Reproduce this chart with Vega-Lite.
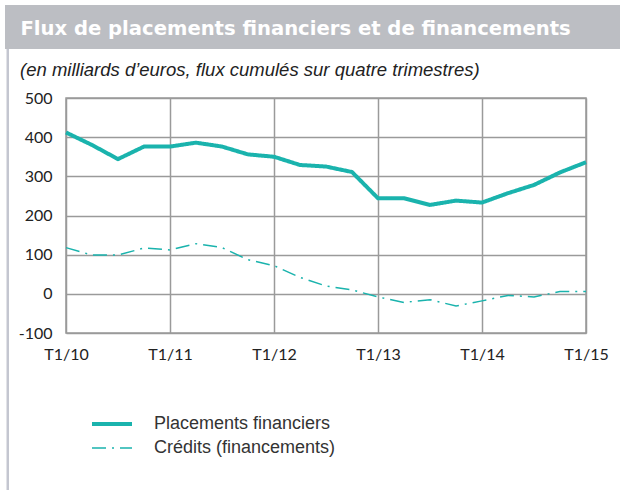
{
  "$schema": "https://vega.github.io/schema/vega-lite/v6.json",
  "padding": {"left": 5, "top": 5, "right": 0, "bottom": 0},
  "background": "white",
  "width": 520,
  "height": 235,
  "config": {"font": "Lato", "axis": {"labelOverlap": false}},
  "view": {"stroke": "#9a9a9a", "strokeWidth": 1.5},
  "encoding": {
    "x": {
      "type": "quantitative", "title": null,
      "scale": {"domain": [2010, 2015], "nice": false, "zero": false},
      "axis": {
        "values": [2010, 2011, 2012, 2013, 2014, 2015],
        "labelExpr": "'T1/' + slice(toString(datum.value), 2)",
        "grid": true, "gridColor": "#9a9a9a", "gridWidth": 1.5,
        "domain": false, "ticks": false, "labelOverlap": false,
        "labelPadding": 13, "labelFontSize": 16, "labelFont": "Lato", "labelColor": "#222222",
        "labelFlush": false
      }
    },
    "y": {
      "type": "quantitative", "title": null,
      "scale": {"domain": [-100, 500], "nice": false, "zero": false},
      "axis": {
        "values": [-100, 0, 100, 200, 300, 400, 500],
        "labelExpr": "toString(datum.value)",
        "grid": true, "gridColor": "#9a9a9a", "gridWidth": 1.5,
        "domain": false, "ticks": false, "labelOverlap": false,
        "labelPadding": 14, "labelFontSize": 16, "labelFont": "Lato", "labelColor": "#222222"
      }
    }
  },
  "layer": [
    {
      "data": {"values": [{}]},
      "mark": {"type": "rect", "color": "#bcbec3", "clip": false},
      "encoding": {
        "x": {"datum": 2009.4135, "type": "quantitative"},
        "x2": {"datum": 2015.33},
        "y": {"datum": 737.4, "type": "quantitative"},
        "y2": {"datum": 625.1}
      }
    },
    {
      "data": {"values": [{}]},
      "mark": {"type": "rule", "color": "#c4c6d0", "strokeWidth": 2.5, "clip": false},
      "encoding": {
        "x": {"datum": 2009.44, "type": "quantitative"},
        "y": {"datum": 625.1, "type": "quantitative"},
        "y2": {"datum": -501}
      }
    },
    {
      "data": {"values": [{"texte": "Flux de placements financiers et de financements"}]},
      "mark": {"type": "text", "align": "left", "baseline": "alphabetic", "font": "DejaVu Sans", "fontWeight": "bold", "fontSize": 19.6, "color": "white", "clip": false},
      "encoding": {
        "text": {"field": "texte"},
        "x": {"datum": 2009.562, "type": "quantitative"},
        "y": {"datum": 661, "type": "quantitative"}
      }
    },
    {
      "data": {"values": [{"texte": "(en milliards d’euros, flux cumulés sur quatre trimestres)"}]},
      "mark": {"type": "text", "align": "left", "baseline": "alphabetic", "font": "Liberation Sans", "fontStyle": "italic", "fontSize": 18.5, "color": "#222222", "clip": false},
      "encoding": {
        "text": {"field": "texte"},
        "x": {"datum": 2009.558, "type": "quantitative"},
        "y": {"datum": 556, "type": "quantitative"}
      }
    },
    {
      "data": {"values": [
        {"date": 2010.00, "serie": "Placements financiers", "valeur": 412},
        {"date": 2010.25, "serie": "Placements financiers", "valeur": 380},
        {"date": 2010.50, "serie": "Placements financiers", "valeur": 344},
        {"date": 2010.75, "serie": "Placements financiers", "valeur": 376},
        {"date": 2011.00, "serie": "Placements financiers", "valeur": 376},
        {"date": 2011.25, "serie": "Placements financiers", "valeur": 386},
        {"date": 2011.50, "serie": "Placements financiers", "valeur": 376},
        {"date": 2011.75, "serie": "Placements financiers", "valeur": 356},
        {"date": 2012.00, "serie": "Placements financiers", "valeur": 350},
        {"date": 2012.25, "serie": "Placements financiers", "valeur": 329},
        {"date": 2012.50, "serie": "Placements financiers", "valeur": 325},
        {"date": 2012.75, "serie": "Placements financiers", "valeur": 311},
        {"date": 2013.00, "serie": "Placements financiers", "valeur": 244},
        {"date": 2013.25, "serie": "Placements financiers", "valeur": 244},
        {"date": 2013.50, "serie": "Placements financiers", "valeur": 227},
        {"date": 2013.75, "serie": "Placements financiers", "valeur": 238},
        {"date": 2014.00, "serie": "Placements financiers", "valeur": 233},
        {"date": 2014.25, "serie": "Placements financiers", "valeur": 257},
        {"date": 2014.50, "serie": "Placements financiers", "valeur": 278},
        {"date": 2014.75, "serie": "Placements financiers", "valeur": 310},
        {"date": 2015.00, "serie": "Placements financiers", "valeur": 336},
        {"date": 2010.00, "serie": "Crédits (financements)", "valeur": 118},
        {"date": 2010.25, "serie": "Crédits (financements)", "valeur": 99},
        {"date": 2010.50, "serie": "Crédits (financements)", "valeur": 99},
        {"date": 2010.75, "serie": "Crédits (financements)", "valeur": 117},
        {"date": 2011.00, "serie": "Crédits (financements)", "valeur": 112},
        {"date": 2011.25, "serie": "Crédits (financements)", "valeur": 128},
        {"date": 2011.50, "serie": "Crédits (financements)", "valeur": 118},
        {"date": 2011.75, "serie": "Crédits (financements)", "valeur": 87},
        {"date": 2012.00, "serie": "Crédits (financements)", "valeur": 72},
        {"date": 2012.25, "serie": "Crédits (financements)", "valeur": 42},
        {"date": 2012.50, "serie": "Crédits (financements)", "valeur": 20},
        {"date": 2012.75, "serie": "Crédits (financements)", "valeur": 10},
        {"date": 2013.00, "serie": "Crédits (financements)", "valeur": -8},
        {"date": 2013.25, "serie": "Crédits (financements)", "valeur": -22},
        {"date": 2013.50, "serie": "Crédits (financements)", "valeur": -15},
        {"date": 2013.75, "serie": "Crédits (financements)", "valeur": -31},
        {"date": 2014.00, "serie": "Crédits (financements)", "valeur": -18},
        {"date": 2014.25, "serie": "Crédits (financements)", "valeur": -4},
        {"date": 2014.50, "serie": "Crédits (financements)", "valeur": -8},
        {"date": 2014.75, "serie": "Crédits (financements)", "valeur": 6},
        {"date": 2015.00, "serie": "Crédits (financements)", "valeur": 6}
      ]},
      "mark": {"type": "line", "strokeJoin": "miter"},
      "encoding": {
        "x": {"field": "date", "type": "quantitative"},
        "y": {"field": "valeur", "type": "quantitative"},
        "color": {
          "field": "serie", "type": "nominal", "title": null,
          "scale": {"domain": ["Placements financiers", "Crédits (financements)"], "range": ["#1ab3ad", "#1ab3ad"]},
          "legend": {"orient": "none", "legendX": 24, "legendY": 318, "padding": 0, "symbolType": "stroke", "symbolSize": 1600, "clipHeight": 16, "rowPadding": 6, "labelFont": "Liberation Sans", "labelFontSize": 18, "labelLimit": 300, "labelColor": "#333333", "labelOffset": 20}
        },
        "strokeDash": {
          "field": "serie", "type": "nominal", "title": null,
          "scale": {"domain": ["Placements financiers", "Crédits (financements)"], "range": [[1, 0], [14, 6, 2, 6]]},
          "legend": {"orient": "none", "legendX": 24, "legendY": 318, "padding": 0, "symbolType": "stroke", "symbolSize": 1600, "clipHeight": 16, "rowPadding": 6, "labelFont": "Liberation Sans", "labelFontSize": 18, "labelLimit": 300, "labelColor": "#333333", "labelOffset": 20}
        },
        "strokeWidth": {
          "field": "serie", "type": "nominal", "title": null,
          "scale": {"type": "ordinal", "domain": ["Placements financiers", "Crédits (financements)"], "range": [4, 1.5]},
          "legend": {"orient": "none", "legendX": 24, "legendY": 318, "padding": 0, "symbolType": "stroke", "symbolSize": 1600, "clipHeight": 16, "rowPadding": 6, "labelFont": "Liberation Sans", "labelFontSize": 18, "labelLimit": 300, "labelColor": "#333333", "labelOffset": 20}
        }
      }
    }
  ]
}
